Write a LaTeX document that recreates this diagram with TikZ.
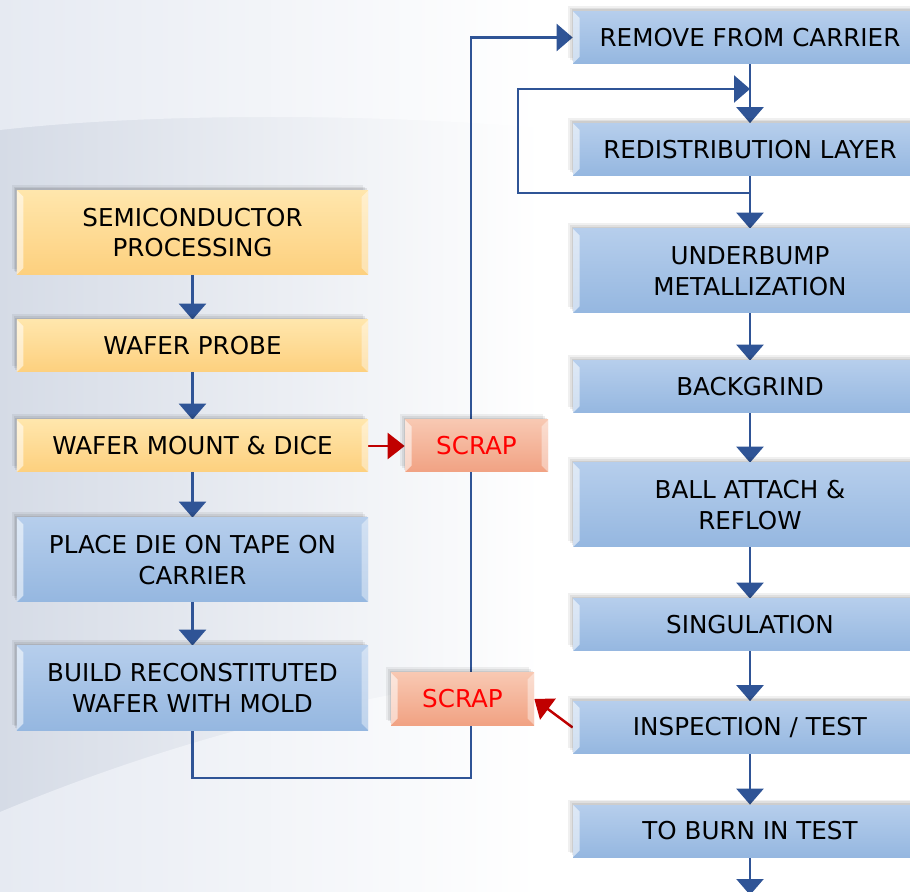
\documentclass[tikz,border=0pt]{standalone}
\usepackage{fontspec}
\setmainfont{DejaVu Sans}
\usetikzlibrary{arrows.meta,positioning,calc,shadows}
\definecolor{flowblue}   {HTML}{2F5496}
\definecolor{flowred}    {HTML}{C00000}
\definecolor{bluetop}    {HTML}{B6CEEC}
\definecolor{bluebot}    {HTML}{95B7E0}
\definecolor{yeltop}     {HTML}{FFE6AC}
\definecolor{yelbot}     {HTML}{FDD07E}
\definecolor{scraptop}   {HTML}{F8C8B2}
\definecolor{scrapbot}   {HTML}{F1A283}
\definecolor{scrapink}   {HTML}{FF0000}
\definecolor{backtop}    {HTML}{E6EAF2}
\definecolor{backband}   {HTML}{D5DBE6}
\pgfdeclarelayer{haze}
\pgfdeclarelayer{links}
\pgfsetlayers{haze,links,main}

\begin{document}
\begin{tikzpicture}[
  x=0.2mm, y=-0.2mm,
  softshadow/.style={
    general shadow={fill=black, opacity=0.06, shadow xshift=-1.0mm, shadow yshift=1.1mm},
    general shadow={fill=black, opacity=0.07, shadow xshift=-0.65mm, shadow yshift=0.75mm},
    general shadow={fill=black, opacity=0.08, shadow xshift=-0.3mm, shadow yshift=0.4mm}},
  flowbox/.style={rectangle, inner sep=0pt, align=center,
                  font=\fontsize{14}{17.5}\selectfont, text=black, softshadow,
                  path picture={
                    \fill[white, opacity=0.55] (path picture bounding box.north west)
                      -- ++(1.3mm,-1.3mm)
                      -- ($(path picture bounding box.south west)+(1.3mm,1.3mm)$)
                      -- (path picture bounding box.south west) -- cycle;
                    \fill[white, opacity=0.4] (path picture bounding box.north east)
                      -- ++(-1.3mm,-1.3mm)
                      -- ($(path picture bounding box.south east)+(-1.3mm,1.3mm)$)
                      -- (path picture bounding box.south east) -- cycle;}},
  fabbox/.style={flowbox, top color=yeltop, bottom color=yelbot,
                 minimum width=7.02cm, minimum height=#1},
  leftbox/.style={flowbox, top color=bluetop, bottom color=bluebot,
                  minimum width=7.02cm, minimum height=#1},
  rightbox/.style={flowbox, top color=bluetop, bottom color=bluebot,
                   minimum width=7.08cm, minimum height=#1},
  scrapbox/.style={flowbox, top color=scraptop, bottom color=scrapbot,
                   text=scrapink, minimum width=2.86cm, minimum height=1.04cm},
  flow/.style={draw=flowblue, line width=1.4pt,
               -{Triangle[width=5.4mm,length=3.2mm]}},
  scrapflow/.style={draw=flowred, line width=1.4pt,
                    -{Triangle[width=5.2mm,length=3.4mm]}},
]
  \useasboundingbox (0,0) rectangle (910,892);

  % Backdrop: darker haze on the left, lighter caps above and below the sweep.
  \begin{pgfonlayer}{haze}
    \fill[white] (0,0) rectangle (910,892);
    \shade[left color=backband, right color=white] (0,0) rectangle (540,892);
    \shade[left color=backtop, right color=white]
      (0,0) -- (540,0) -- (540,128)
      .. controls (380,114) and (160,112) .. (0,130) -- cycle;
    \shade[left color=backtop, right color=white]
      (0,892) -- (0,812) .. controls (120,762) and (300,700) .. (540,672)
      -- (540,892) -- cycle;
  \end{pgfonlayer}

  % Front end of the line (wafer side).
  \node[fabbox=1.68cm] (semi)  at (192.5,232.5) {SEMICONDUCTOR\\PROCESSING};
  \node[fabbox=1.04cm] (probe) at (192.5,346)   {WAFER PROBE};
  \node[fabbox=1.04cm] (mount) at (192.5,446)   {WAFER MOUNT \& DICE};
  \node[leftbox=1.68cm] (place) at (192.5,560)  {PLACE DIE ON TAPE ON\\CARRIER};
  \node[leftbox=1.68cm] (build) at (192.5,688)  {BUILD RECONSTITUTED\\WAFER WITH MOLD};

  % Fan-out side.
  \node[rightbox=1.04cm] (remove) at (750,37.5)  {REMOVE FROM CARRIER};
  \node[rightbox=1.04cm] (redist) at (750,149.5) {REDISTRIBUTION LAYER};
  \node[rightbox=1.68cm] (ubm)    at (750,271)   {UNDERBUMP\\METALLIZATION};
  \node[rightbox=1.04cm] (grind)  at (750,387)   {BACKGRIND};
  \node[rightbox=1.68cm] (ball)   at (750,505)   {BALL ATTACH \&\\REFLOW};
  \node[rightbox=1.04cm] (sing)   at (750,625)   {SINGULATION};
  \node[rightbox=1.04cm] (insp)   at (750,727.5) {INSPECTION / TEST};
  \node[rightbox=1.04cm] (burn)   at (750,831)   {TO BURN IN TEST};

  \node[scrapbox] (scrapup) at (476.5,446) {SCRAP};
  \node[scrapbox] (scraplo) at (462.5,699) {SCRAP};

  \coordinate (bendlow) at (471,778);
  \coordinate (loopout) at (750,193);
  \coordinate (loopin)  at (750,89);
  \coordinate (exit)    at (750,895);

  \begin{pgfonlayer}{links}
    \draw[flow] (semi) -- (probe);
    \draw[flow] (probe) -- (mount);
    \draw[flow] (mount) -- (place);
    \draw[flow] (place) -- (build);
    \draw[flow] (build.south) |- (bendlow) |- (remove.west);

    \draw[flow] (remove) -- (redist);
    \draw[flow] (redist) -- (ubm);
    \draw[flow] (loopout) -- ++(-232,0) |- (loopin);
    \draw[flow] (ubm) -- (grind);
    \draw[flow] (grind) -- (ball);
    \draw[flow] (ball) -- (sing);
    \draw[flow] (sing) -- (insp);
    \draw[flow] (insp) -- (burn);
    \draw[flow] (burn) -- (exit);

    \draw[scrapflow] (mount) -- (scrapup);
    \draw[scrapflow] (insp.west) -- (scraplo.east);
  \end{pgfonlayer}
\end{tikzpicture}
\end{document}
